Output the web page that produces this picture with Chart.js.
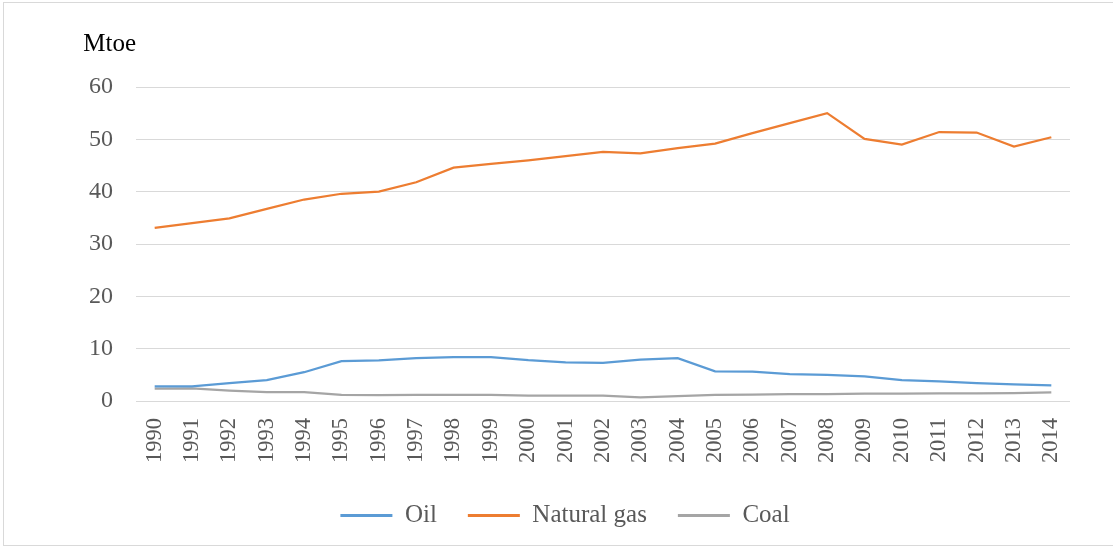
<!DOCTYPE html>
<html>
<head>
<meta charset="utf-8">
<script src="https://cdn.jsdelivr.net/npm/chart.js@4"></script>
<style>
    html, body { margin: 0; padding: 0; background: #fff; }
    #wrap { position: relative; width: 1113px; height: 547px; overflow: hidden; }
    #frame { position: absolute; left: 3px; top: 2px; width: 1120px; height: 542px; border: 1px solid #d9d9d9; }
    canvas { position: absolute; left: 0; top: 0; }
</style>
</head>
<body>
<div id="wrap">
    <div id="frame"></div>
    <canvas id="energy-chart" width="1113" height="547"></canvas>
</div>
<script>
const years = ['1990', '1991', '1992', '1993', '1994', '1995', '1996', '1997', '1998', '1999',
    '2000', '2001', '2002', '2003', '2004', '2005', '2006', '2007', '2008', '2009',
    '2010', '2011', '2012', '2013', '2014'];

// Mtoe per year
const oil = [2.8, 2.8, 3.4, 4.0, 5.5, 7.6, 7.75, 8.2, 8.4, 8.4,
    7.8, 7.4, 7.3, 7.9, 8.2, 5.65, 5.6, 5.15, 5.0, 4.7,
    4.0, 3.75, 3.4, 3.2, 3.0];
const naturalGas = [33.1, 34.0, 34.9, 36.7, 38.5, 39.6, 40.0, 41.8, 44.6, 45.3,
    46.0, 46.8, 47.6, 47.3, 48.3, 49.2, 51.2, 53.1, 55.0, 50.1,
    49.0, 51.4, 51.3, 48.6, 50.4];
const coal = [2.35, 2.4, 2.0, 1.7, 1.7, 1.15, 1.1, 1.15, 1.15, 1.15,
    1.05, 1.05, 1.05, 0.7, 0.95, 1.15, 1.2, 1.3, 1.3, 1.4,
    1.4, 1.45, 1.45, 1.5, 1.65];

const yTicks = [0, 10, 20, 30, 40, 50, 60];

const serif = '"Liberation Serif", "Times New Roman", serif';
const grey = '#595959';

// unit label above the value axis
const unitLabel = {
    id: 'unitLabel',
    afterDraw(chart) {
        const ctx = chart.ctx;
        ctx.save();
        ctx.font = '25px ' + serif;
        ctx.fillStyle = '#000';
        ctx.textAlign = 'right';
        ctx.textBaseline = 'alphabetic';
        ctx.fillText('Mtoe', chart.chartArea.left, 51);
        ctx.restore();
    }
};

const line = (label, data, color) => ({
    label,
    data,
    borderColor: color,
    backgroundColor: color,
    borderWidth: 2.25,
    pointRadius: 0,
    tension: 0,
    fill: false
});

new Chart(document.getElementById('energy-chart'), {
    type: 'line',
    data: {
        labels: years,
        datasets: [
            line('Oil', oil, '#5b9bd5'),
            line('Natural gas', naturalGas, '#ed7d31'),
            line('Coal', coal, '#a5a5a5')
        ]
    },
    options: {
        responsive: false,
        animation: false,
        // extra left padding pushes the legend centre to the right
        layout: { padding: { top: 87, right: 43, bottom: 9, left: 60 } },
        plugins: {
            tooltip: { enabled: false },
            legend: {
                position: 'bottom',
                labels: {
                    color: grey,
                    font: { family: serif, size: 25 },
                    boxWidth: 52,
                    boxHeight: 3,
                    padding: 31,
                    generateLabels(chart) {
                        return Chart.defaults.plugins.legend.labels.generateLabels(chart)
                            .map(l => Object.assign(l, { lineWidth: 0 }));
                    }
                }
            }
        },
        scales: {
            x: {
                offset: true,
                grid: { display: false },
                border: { display: false },
                ticks: {
                    color: grey,
                    font: { family: serif, size: 22.5 },
                    autoSkip: false,
                    minRotation: 90,
                    maxRotation: 90,
                    padding: 9
                }
            },
            y: {
                min: 0,
                max: 60,
                afterBuildTicks(scale) {
                    scale.ticks = yTicks.map(v => ({ value: v }));
                },
                afterFit(scale) { scale.width = 76; },
                grid: { color: '#d9d9d9', lineWidth: 1, drawTicks: false },
                border: { display: false },
                ticks: {
                    color: grey,
                    font: { family: serif, size: 24 },
                    padding: 23
                }
            }
        }
    },
    plugins: [unitLabel]
});
</script>
</body>
</html>
